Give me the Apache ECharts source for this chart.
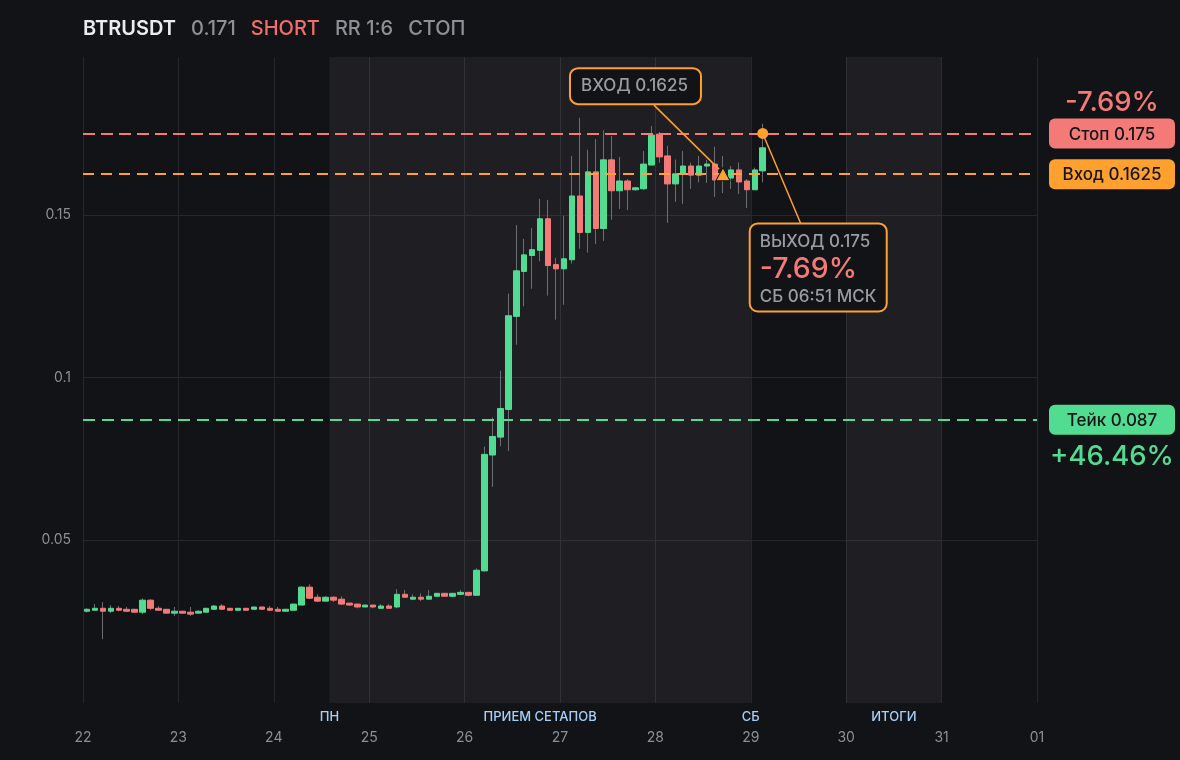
<!DOCTYPE html>
<html>
<head>
<meta charset="utf-8">
<script src="https://cdn.jsdelivr.net/npm/echarts@6/dist/echarts.min.js"></script>
<style>
html,body{margin:0;padding:0;background:#121317;}
#c{width:1180px;height:760px;}
</style>
</head>
<body>
<div id="c"></div>
<script>
// ---- data ----
const firstDay = 22;
const candlesPerDay = 12; // 2h candles
const xTickLabels = ['22','23','24','25','26','27','28','29','30','31','01'];

const opens = [
  0.0282,0.0285,0.0291,0.0282,0.0291,0.0288,0.0288,0.0279,0.0316,0.0291,0.0288,0.0276,
  0.0282,0.0279,0.0276,0.0279,0.0288,0.0298,0.0291,0.0285,0.0291,0.0288,0.0295,0.0291,
  0.0288,0.0282,0.0285,0.0301,0.0356,0.0325,0.0313,0.0325,0.0319,0.0307,0.0304,0.0295,
  0.0301,0.0291,0.0298,0.0295,0.0334,0.0319,0.0325,0.0319,0.0328,0.0337,0.0328,0.0334,
  0.0340,0.0331,0.0406,0.0762,0.0817,0.0902,0.1188,0.1326,0.1375,0.1391,0.1488,0.1347,
  0.1334,0.1362,0.1558,0.1446,0.1632,0.1458,0.1669,0.1574,0.1604,0.1577,0.1580,0.1653,
  0.1748,0.1681,0.1595,0.1626,0.1650,0.1622,0.1650,0.1656,0.1610,0.1613,0.1638,0.1604,
  0.1577,0.1635
];
const closes = [
  0.0288,0.0291,0.0282,0.0291,0.0285,0.0282,0.0279,0.0316,0.0291,0.0285,0.0276,0.0282,
  0.0276,0.0273,0.0282,0.0291,0.0298,0.0288,0.0285,0.0291,0.0285,0.0295,0.0288,0.0285,
  0.0282,0.0288,0.0304,0.0356,0.0322,0.0313,0.0325,0.0316,0.0304,0.0301,0.0295,0.0301,
  0.0295,0.0298,0.0291,0.0334,0.0325,0.0325,0.0319,0.0328,0.0337,0.0328,0.0337,0.0340,
  0.0331,0.0408,0.0764,0.0819,0.0905,0.1190,0.1328,0.1377,0.1393,0.1488,0.1344,0.1334,
  0.1365,0.1558,0.1446,0.1632,0.1458,0.1669,0.1574,0.1604,0.1577,0.1583,0.1656,0.1745,
  0.1678,0.1595,0.1626,0.1650,0.1622,0.1650,0.1656,0.1607,0.1620,0.1638,0.1601,0.1577,
  0.1638,0.1706
];
const lows = [
  0.0278,0.0285,0.0196,0.0276,0.0282,0.0279,0.0279,0.0273,0.0285,0.0285,0.0276,0.0267,
  0.0276,0.0267,0.0276,0.0279,0.0288,0.0288,0.0285,0.0285,0.0285,0.0288,0.0288,0.0285,
  0.0282,0.0282,0.0285,0.0301,0.0319,0.0310,0.0313,0.0310,0.0301,0.0298,0.0291,0.0295,
  0.0291,0.0291,0.0291,0.0291,0.0325,0.0316,0.0313,0.0319,0.0328,0.0328,0.0325,0.0334,
  0.0328,0.0331,0.0403,0.0664,0.0789,0.0774,0.1101,0.1219,0.1273,0.1357,0.1252,0.1178,
  0.1224,0.1350,0.1396,0.1384,0.1410,0.1420,0.1485,0.1518,0.1515,0.1574,0.1577,0.1653,
  0.1660,0.1475,0.1540,0.1534,0.1580,0.1600,0.1598,0.1555,0.1567,0.1580,0.1564,0.1521,
  0.1577,0.1600
];
const highs = [
  0.0291,0.0304,0.0310,0.0301,0.0298,0.0295,0.0288,0.0322,0.0319,0.0298,0.0288,0.0295,
  0.0282,0.0295,0.0285,0.0291,0.0301,0.0304,0.0291,0.0291,0.0291,0.0295,0.0295,0.0298,
  0.0295,0.0288,0.0304,0.0359,0.0365,0.0334,0.0328,0.0328,0.0328,0.0307,0.0304,0.0301,
  0.0301,0.0304,0.0304,0.0350,0.0347,0.0334,0.0337,0.0347,0.0337,0.0337,0.0337,0.0347,
  0.0340,0.0414,0.0788,0.0877,0.1021,0.1258,0.1469,0.1426,0.1460,0.1549,0.1546,0.1368,
  0.1497,0.1681,0.1798,0.1700,0.1733,0.1760,0.1742,0.1678,0.1610,0.1586,0.1696,0.1773,
  0.1755,0.1712,0.1670,0.1696,0.1660,0.1681,0.1669,0.1709,0.1681,0.1650,0.1661,0.1610,
  0.1645,0.1780
];

const stopPrice = 0.175;
const entryPrice = 0.1625;
const takePrice = 0.087;
const exitPrice = 0.175;
const entryTime = 28 + 17/24;
const exitTime = 29 + 3/24;
const zoneFrom = [24 + 14/24, 30];
const zoneTo = [29, 31];
const zoneNames = ['ПРИЕМ СЕТАПОВ', 'ИТОГИ'];
const dayMarkAt = [24 + 14/24, 29];
const dayMarkNames = ['ПН', 'СБ'];

// ---- styles ----
const BG = '#121317';
const GREEN = '#52dc91';
const RED = '#f47a78';
const ORANGE = '#ffa02f';
const GRID = '#26272c';
const AXIS_TXT = '#8d8f97';
const FONT = 'Inter, "Noto Sans", sans-serif';

const times = opens.map((_, i) => firstDay + (i + 0.5) / candlesPerDay);
const wickData = opens.map((o, i) => [times[i], o, closes[i], lows[i], highs[i]]);
const bodyData = opens.map((o, i) => [times[i], o, closes[i], Math.min(o, closes[i]), Math.max(o, closes[i])]);

const chart = echarts.init(document.getElementById('c'), null, {renderer: 'canvas'});

const option = {
  backgroundColor: BG,
  animation: false,
  textStyle: {fontFamily: FONT},
  title: {
    left: 83, top: 19, padding: 0,
    text: '{a|BTRUSDT}{b|0.171}{c|SHORT}{b|RR 1:6}{d|СТОП}',
    textStyle: {
      rich: {
        a: {fontSize: 20, fontWeight: 600, color: '#ececee', fontFamily: FONT, padding: [0, 15, 0, 0]},
        b: {fontSize: 20, fontWeight: 500, color: '#8e9098', fontFamily: FONT, padding: [0, 15, 0, 0]},
        c: {fontSize: 20, fontWeight: 500, color: '#f26e6c', fontFamily: FONT, padding: [0, 15, 0, 0]},
        d: {fontSize: 20, fontWeight: 500, color: '#8e9098', fontFamily: FONT}
      }
    }
  },
  grid: {left: 83, right: 143, top: 57, bottom: 57},
  xAxis: {
    type: 'value', min: 22, max: 32, interval: 1,
    axisLine: {show: false}, axisTick: {show: false},
    splitLine: {show: true, lineStyle: {color: GRID, width: 1}},
    axisLabel: {
      color: AXIS_TXT, fontSize: 14, margin: 28, fontFamily: FONT,
      formatter: v => xTickLabels[Math.round(v - 22)] || ''
    }
  },
  yAxis: {
    type: 'value', min: 0, max: 0.1985, interval: 0.05,
    axisLine: {show: false}, axisTick: {show: false},
    splitLine: {show: true, showMinLine: false, showMaxLine: false, lineStyle: {color: GRID, width: 1}},
    axisLabel: {
      color: AXIS_TXT, fontSize: 14, margin: 12, fontFamily: FONT,
      showMaxLabel: false,
      formatter: v => (v > 0.001 && v < 0.19) ? String(+v.toFixed(2)) : ''
    }
  },
  series: [
    {
      name: 'zones', type: 'line', data: [], silent: true,
      markArea: {
        silent: true,
        itemStyle: {color: 'rgba(255,255,255,0.055)'},
        label: {show: true, position: 'bottom', distance: 8, color: '#a6d0fb', fontSize: 13, fontWeight: 500, fontFamily: FONT},
        data: zoneFrom.map((f, i) => [{xAxis: f, name: zoneNames[i]}, {xAxis: zoneTo[i]}])
      },
      markLine: {
        silent: true, symbol: ['none', 'none'], precision: 6,
        lineStyle: {color: 'rgba(0,0,0,0)', width: 0},
        label: {show: true, position: 'start', distance: 8, color: '#a6d0fb', fontSize: 13, fontWeight: 500, fontFamily: FONT, formatter: p => p.name},
        data: dayMarkAt.map((x, i) => ({xAxis: x, name: dayMarkNames[i]}))
      }
    },
    {
      name: 'wicks', type: 'candlestick', data: wickData, barWidth: 1, silent: true,
      itemStyle: {color: '#6c6e75', color0: '#6c6e75', borderColor: '#6c6e75', borderColor0: '#6c6e75', borderWidth: 1}
    },
    {
      name: 'bodies', type: 'candlestick', data: bodyData, barWidth: 6, silent: true,
      itemStyle: {color: GREEN, color0: RED, borderColor: GREEN, borderColor0: RED, borderWidth: 1}
    },
    {
      name: 'levels', type: 'line', data: [], silent: true, z: 4,
      markLine: {
        silent: true, symbol: ['none', 'none'], precision: 6,
        label: {show: false},
        data: [
          {yAxis: stopPrice, lineStyle: {color: RED, width: 2, type: [12, 6]}},
          {yAxis: entryPrice, lineStyle: {color: ORANGE, width: 2, type: [11, 7]}},
          {yAxis: takePrice, lineStyle: {color: GREEN, width: 2, type: [12, 7]}}
        ]
      },
      markPoint: {
        silent: true, label: {show: false},
        data: [
          {coord: [entryTime, entryPrice], symbol: 'triangle', symbolSize: [14, 13], itemStyle: {color: ORANGE, borderColor: BG, borderWidth: 1}},
          {coord: [exitTime, exitPrice], symbol: 'circle', symbolSize: 11, itemStyle: {color: ORANGE}}
        ]
      }
    }
  ]
};

chart.setOption(option);

function px(x, y) { return chart.convertToPixel({gridIndex: 0}, [x, y]); }

const gRight = px(32, 0)[0];
const stopY = px(32, stopPrice)[1];
const entryY = px(32, entryPrice)[1];
const takeY = px(32, takePrice)[1];
const pillX = gRight + 12, pillW = 126, pillH = 30;

function pill(y, color, text) {
  return [
    {type: 'rect', z: 100, shape: {x: pillX, y: y - pillH / 2, width: pillW, height: pillH, r: 6}, style: {fill: color}},
    {type: 'text', z: 101, x: pillX + pillW / 2, y: y + 1, style: {text: text, fill: '#141518', fontSize: 17, fontWeight: 500, fontFamily: FONT, align: 'center', verticalAlign: 'middle'}}
  ];
}

const ep = px(entryTime, entryPrice);
const xp = px(exitTime, exitPrice);
const SMALL = {fill: '#9a9ca4', fontSize: 17, fontWeight: 500, fontFamily: FONT, align: 'left', verticalAlign: 'middle'};

const graphics = [].concat(
  pill(stopY, RED, 'Стоп 0.175'),
  pill(entryY, ORANGE, 'Вход 0.1625'),
  pill(takeY, GREEN, 'Тейк 0.087'),
  [
    {type: 'text', z: 101, x: pillX + pillW / 2, y: stopY - 31, style: {text: '-7.69%', fill: RED, fontSize: 27.5, fontWeight: 500, fontFamily: FONT, align: 'center', verticalAlign: 'middle'}},
    {type: 'text', z: 101, x: pillX + pillW / 2, y: takeY + 37, style: {text: '+46.46%', fill: GREEN, fontSize: 27.5, fontWeight: 500, fontFamily: FONT, align: 'center', verticalAlign: 'middle'}},
    // entry callout
    {type: 'line', z: 99, shape: {x1: ep[0] - 69, y1: ep[1] - 69, x2: ep[0] - 4, y2: ep[1] - 5}, style: {stroke: ORANGE, lineWidth: 1.5}},
    {type: 'rect', z: 100, shape: {x: ep[0] - 153, y: ep[1] - 106, width: 131, height: 36, r: 8}, style: {fill: BG, stroke: ORANGE, lineWidth: 2}},
    {type: 'text', z: 101, x: ep[0] - 142, y: ep[1] - 88, style: Object.assign({text: 'ВХОД 0.1625'}, SMALL)},
    // exit callout
    {type: 'line', z: 99, shape: {x1: xp[0], y1: xp[1], x2: xp[0] + 38, y2: xp[1] + 90}, style: {stroke: ORANGE, lineWidth: 1.5}},
    {type: 'rect', z: 100, shape: {x: xp[0] - 13, y: xp[1] + 90, width: 137, height: 88, r: 8}, style: {fill: BG, stroke: ORANGE, lineWidth: 2}},
    {type: 'text', z: 101, x: xp[0] - 3, y: xp[1] + 108, style: Object.assign({text: 'ВЫХОД 0.175'}, SMALL)},
    {type: 'text', z: 101, x: xp[0] - 3, y: xp[1] + 136, style: {text: '-7.69%', fill: RED, fontSize: 28.5, fontWeight: 500, fontFamily: FONT, align: 'left', verticalAlign: 'middle'}},
    {type: 'text', z: 101, x: xp[0] - 3, y: xp[1] + 163, style: Object.assign({text: 'СБ 06:51 МСК'}, SMALL)}
  ]
);

chart.setOption({graphic: {elements: graphics}});
</script>
</body>
</html>
